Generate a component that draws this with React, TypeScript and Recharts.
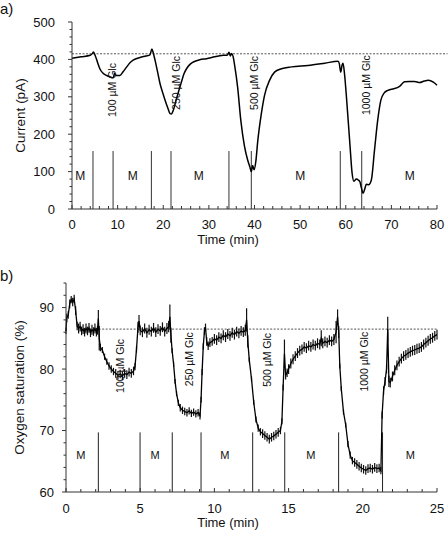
import React from "react";
import { LineChart, Line, XAxis, YAxis, ReferenceLine, ReferenceDot, ErrorBar } from "recharts";

const FONT = "'Liberation Sans', Arial, Helvetica, sans-serif";

// a) current trace
const currentTime = [
  0, 2, 4, 4.5, 4.7, 5.1, 5.6, 6.1, 6.8, 7.6, 8.4, 9.05, 9.3, 9.7, 10.5, 11.2, 12.0, 12.7, 13.4, 14.9,
  16.2, 17.1, 17.5, 17.8, 18.2, 18.7, 19.3, 19.9, 20.4, 21.0, 21.5, 21.8, 22.2, 22.9, 23.5, 24.0, 24.5,
  25.1, 25.8, 26.6, 28.0, 29.5, 31.3, 33.2, 34.1, 34.4, 34.7, 35.0, 35.3, 35.7, 36.3, 37.0, 37.8, 38.5,
  39.0, 39.3, 39.6, 39.9, 40.3, 40.7, 41.5, 42.2, 43.3, 44.4, 45.9, 48.1, 51.7, 55.4, 58.3, 58.6, 58.9,
  59.2, 59.4, 59.7, 60.1, 60.9, 61.4, 61.8, 62.3, 62.8, 63.1, 63.4, 63.8, 64.2, 64.5, 65.0, 65.6, 66.3,
  67.0, 67.7, 68.4, 69.2, 70.0, 70.7, 71.8, 72.9, 74.0, 75.1, 76.2, 77.2, 78.1, 79.2, 80.0,
];
const currentPA = [
  403, 407, 411, 416, 420, 410, 392, 375, 363, 357, 353, 351, 362, 357, 357, 367, 380, 391, 398, 405,
  409, 412, 428, 418, 398, 370, 335, 310, 291, 270, 255, 254, 264, 295, 320, 340, 360,
  375, 386, 393, 399, 402, 407, 411, 412, 419, 409, 416, 408, 380, 326, 237, 168, 131,
  112, 100, 116, 105, 128, 180, 255, 304, 344, 366, 375, 380, 384, 390, 395, 388, 366,
  385, 390, 365, 308, 175, 95, 74, 80, 77, 73, 58, 42, 55, 66, 65, 77, 157,
  237, 291, 310, 317, 320, 322, 328, 340, 341, 341, 338, 342, 344, 339, 331,
];
const currentBaseline = 415;
const currentMarkers = [4.6, 9.0, 17.4, 21.7, 34.4, 39.3, 58.8, 63.5];
const currentMarkerTop = 155;
const currentMTimes = [1.8, 13.3, 27.8, 50, 74];
const currentMLevel = 90;
const currentGlcTime = [8.8, 22.8, 40.0, 64.6];
const currentGlcLevel = [318, 337, 337, 331];
const currentXTicks = [
  0, 2, 4, 6, 8, 10, 12, 14, 16, 18, 20, 22, 24, 26, 28, 30, 32, 34, 36, 38, 40,
  42, 44, 46, 48, 50, 52, 54, 56, 58, 60, 62, 64, 66, 68, 70, 72, 74, 76, 78, 80,
];
const currentXMajor = [0, 10, 20, 30, 40, 50, 60, 70, 80];
const currentYTicks = [
  0, 20, 40, 60, 80, 100, 120, 140, 160, 180, 200, 220, 240, 260, 280, 300, 320, 340, 360, 380, 400,
  420, 440, 460, 480, 500,
];
const currentYMajor = [0, 100, 200, 300, 400, 500];

const glcLabels = ["100 \u00B5M Glc", "250 \u00B5M Glc", "500 \u00B5M Glc", "1000 \u00B5M Glc"];

// b) oxygen saturation trace (value and band half-width)
const oxyTime = [
  0, 0.05, 0.15, 0.25, 0.35, 0.45, 0.55, 0.65, 0.75, 0.85, 0.95, 1.05, 1.15, 1.25, 1.35, 1.45, 1.55,
  1.65, 1.75, 1.85, 1.95, 2.05, 2.12, 2.18, 2.24, 2.32, 2.45, 2.6, 2.75, 2.9, 3.05, 3.2, 3.35, 3.5,
  3.65, 3.8, 3.95, 4.1, 4.25, 4.4, 4.55, 4.65, 4.75, 4.85, 4.92, 5.0, 5.15, 5.3, 5.45, 5.6, 5.75, 5.9,
  6.05, 6.2, 6.35, 6.5, 6.65, 6.8, 6.92, 7.0, 7.07, 7.15, 7.25, 7.35, 7.45, 7.57, 7.7, 7.85, 8.0,
  8.15, 8.3, 8.45, 8.6, 8.75, 8.9, 9.03, 9.1, 9.17, 9.25, 9.33, 9.4, 9.48, 9.58, 9.7, 9.85, 10.0,
  10.15, 10.3, 10.45, 10.6, 10.75, 10.9, 11.05, 11.2, 11.35, 11.5, 11.65, 11.8, 11.95, 12.08, 12.17,
  12.25, 12.35, 12.5, 12.65, 12.8, 12.95, 13.1, 13.25, 13.4, 13.55, 13.7, 13.85, 14.0, 14.15, 14.3,
  14.45, 14.55, 14.63, 14.72, 14.8, 14.9, 15.0, 15.15, 15.3, 15.45, 15.6, 15.75, 15.9, 16.05, 16.2,
  16.35, 16.5, 16.65, 16.8, 16.95, 17.1, 17.2, 17.3, 17.45, 17.6, 17.75, 17.9, 18.05, 18.2, 18.3,
  18.38, 18.45, 18.55, 18.7, 18.85, 19.0, 19.15, 19.3, 19.45, 19.6, 19.75, 19.9, 20.05, 20.2, 20.35,
  20.5, 20.65, 20.8, 20.95, 21.1, 21.22, 21.3, 21.4, 21.5, 21.6, 21.68, 21.76, 21.85, 22.0, 22.15,
  22.3, 22.45, 22.6, 22.75, 22.9, 23.05, 23.2, 23.35, 23.5, 23.65, 23.8, 23.95, 24.1, 24.25, 24.4,
  24.55, 24.7, 24.85, 25.0,
];
const oxySat = [
  86.2, 88.3, 88.8, 90.6, 91.3, 90.9, 91.4, 89.5, 87.0, 86.6, 86.9, 86.2, 86.5, 86.0, 86.6, 86.2, 86.7,
  85.9, 86.4, 86.1, 86.6, 86.0, 86.3, 88.2, 85.0, 83.5, 83.1, 82.0, 81.2, 80.5, 80.0, 79.6, 79.3, 79.0,
  79.2, 78.9, 79.3, 79.1, 79.5, 79.3, 79.7, 80.4, 83.2, 86.8, 87.8, 86.3, 86.0, 86.6, 85.9, 86.4, 86.1, 86.7,
  86.0, 86.5, 86.2, 86.8, 86.1, 86.6, 86.9, 88.5, 85.5, 83.0, 80.8, 78.0, 76.0, 74.5, 73.7, 73.3, 73.1,
  72.9, 73.2, 72.8, 73.0, 72.7, 72.9, 72.4, 75.0, 79.5, 83.7, 86.2, 86.8, 84.5, 83.8, 84.3, 84.5, 84.9,
  84.7, 85.2, 85.0, 85.5, 85.2, 85.7, 85.4, 85.9, 85.6, 86.1, 85.8, 86.2, 86.0, 86.3, 88.0,
  84.5, 81.5, 78.4, 74.6, 71.8, 70.4, 69.8, 69.5, 69.2, 68.9, 68.6, 68.9, 69.1, 69.4, 69.7,
  70.0, 71.5, 77.0, 82.5, 79.0, 79.4, 80.0, 80.9, 81.6, 82.1, 82.6, 83.0, 83.2, 83.6, 83.4,
  83.8, 83.6, 84.0, 83.8, 84.2, 84.0, 85.0, 84.2, 84.5, 84.3, 84.7, 84.5, 84.8, 86.0, 88.5,
  86.0, 80.5, 76.8, 73.0, 70.9, 67.8, 66.0, 65.1, 64.8, 64.5, 64.2, 63.9, 63.7, 63.5, 63.8,
  63.9, 63.7, 64.0, 63.8, 63.9, 63.5, 72.5, 76.5, 78.0, 80.0, 86.5, 78.0, 77.8, 78.8, 79.8,
  80.6, 81.2, 81.7, 82.1, 82.3, 82.6, 82.8, 83.0, 83.1, 83.3, 83.4, 83.6, 84.0, 84.3, 84.6,
  84.9, 85.1, 85.4, 85.6,
];
const oxySpread = [
  0.5, 0.7, 0.6, 0.7, 0.6, 0.7, 0.7, 0.7, 0.7, 0.8, 0.8, 0.7, 0.8, 0.7, 0.8, 0.7, 0.8,
  0.7, 0.8, 0.7, 0.8, 0.7, 0.7, 1.4, 2.0, 0.6, 0.5, 0.5, 0.5, 0.6, 0.6, 0.6, 0.7, 0.7,
  0.7, 0.7, 0.7, 0.7, 0.7, 0.7, 0.7, 0.6, 0.5, 0.9, 1.0, 0.8, 0.8, 0.8, 0.8, 0.8, 0.8, 0.8,
  0.8, 0.8, 0.8, 0.8, 0.8, 0.9, 0.9, 2.0, 1.2, 0.4, 0.4, 0.4, 0.4, 0.5, 0.6, 0.6, 0.6,
  0.6, 0.6, 0.6, 0.6, 0.6, 0.6, 0.6, 0.5, 0.5, 0.5, 0.6, 0.6, 0.7, 0.7, 0.7, 0.7, 0.8,
  0.8, 0.8, 0.8, 0.8, 0.8, 0.8, 0.8, 0.8, 0.8, 0.8, 0.8, 0.8, 0.8, 0.9, 1.9,
  1.0, 0.4, 0.4, 0.4, 0.5, 0.6, 0.6, 0.7, 0.7, 0.7, 0.7, 0.7, 0.7, 0.7, 0.7,
  0.6, 0.5, 0.5, 2.3, 0.7, 0.7, 0.8, 0.8, 0.8, 0.8, 0.8, 0.8, 0.8, 0.8, 0.8,
  0.8, 0.8, 0.8, 0.8, 0.8, 0.8, 1.3, 0.8, 0.8, 0.8, 0.8, 0.8, 0.9, 1.8, 1.2,
  1.0, 0.4, 0.4, 0.4, 0.4, 0.5, 0.6, 0.6, 0.7, 0.7, 0.7, 0.7, 0.7, 0.7, 0.7,
  0.7, 0.7, 0.7, 0.7, 0.7, 0.6, 0.6, 0.7, 0.7, 0.7, 2.0, 0.9, 0.8, 0.8, 0.8,
  0.8, 0.8, 0.8, 0.8, 0.8, 0.8, 0.8, 0.8, 0.8, 0.8, 0.8, 0.8, 0.8, 0.8, 0.8,
  0.8, 0.8, 0.8, 0.8,
];
const oxyBaseline = 86.5;
const oxyBaselineStart = 2.2;
const oxyMarkers = [2.18, 4.99, 7.16, 9.1, 12.58, 14.74, 18.37, 21.33];
const oxyMarkerTop = 69.7;
const oxyMTimes = [1.0, 6.0, 10.7, 16.5, 23.2];
const oxyMLevel = 66;
const oxyGlcTime = [3.64, 8.3, 13.56, 20.1];
const oxyGlcLevel = [80.5, 81.6, 81.5, 81.2];
const oxyXTicks = [
  0, 1, 2, 3, 4, 5, 6, 7, 8, 9, 10, 11, 12, 13, 14, 15, 16, 17, 18, 19, 20, 21, 22, 23, 24, 25,
];
const oxyXMajor = [0, 5, 10, 15, 20, 25];
const oxyYTicks = [60, 62, 64, 66, 68, 70, 72, 74, 76, 78, 80, 82, 84, 86, 88, 90, 92, 94];
const oxyYMajor = [60, 70, 80, 90];

const currentData = currentTime.map((t, i) => ({ t, v: currentPA[i] }));
const oxyData = oxyTime.map((t, i) => ({ t, v: oxySat[i], e: oxySpread[i] }));

const XTick = (props: any) => {
  const { x, y, payload, major, dy } = props;
  const isMajor = major.includes(payload.value);
  return (
    <g>
      <line x1={x} x2={x} y1={y} y2={y - (isMajor ? 4 : 3)} stroke="#333" />
      {isMajor && (
        <text x={x} y={y + dy} textAnchor="middle" fontSize={13} fontFamily={FONT} fill="#111">
          {payload.value}
        </text>
      )}
    </g>
  );
};

const YTick = (props: any) => {
  const { x, y, payload, major, gap } = props;
  const isMajor = major.includes(payload.value);
  return (
    <g>
      <line x1={x} x2={x - (isMajor ? 4 : 2.5)} y1={y} y2={y} stroke="#333" />
      {isMajor && (
        <text x={x - gap} y={y} dy="0.36em" textAnchor="end" fontSize={13} fontFamily={FONT} fill="#111">
          {payload.value}
        </text>
      )}
    </g>
  );
};

const glcLabel = (text: string) => (props: any) => {
  const { viewBox } = props;
  const cx = viewBox.x + viewBox.width / 2;
  const cy = viewBox.y + viewBox.height / 2;
  return (
    <text
      transform={`translate(${cx},${cy}) rotate(-90)`}
      textAnchor="middle"
      dy="0.35em"
      fontSize={10.5}
      fontFamily={FONT}
      fill="#111"
    >
      {text}
    </text>
  );
};

const yTitle = (text: string, x: number) => (props: any) => {
  const { viewBox } = props;
  return (
    <text
      transform={`translate(${x},${viewBox.y + viewBox.height / 2}) rotate(-90)`}
      textAnchor="middle"
      dy="0.35em"
      fontSize={13.5}
      fontFamily={FONT}
      fill="#111"
    >
      {text}
    </text>
  );
};

const xTitle = (x: number, dy: number) => (props: any) => {
  const { viewBox } = props;
  return (
    <text x={x} y={viewBox.y + dy} textAnchor="middle" fontSize={13} fontFamily={FONT} fill="#111">
      Time (min)
    </text>
  );
};

const panelLetter: React.CSSProperties = {
  position: "absolute",
  left: 0,
  fontFamily: FONT,
  fontSize: 15,
  lineHeight: "15px",
  color: "#111",
};

export default function App() {
  return (
    <div style={{ position: "absolute", left: 0, top: 0, width: 448, height: 537, background: "#fff" }}>
      <div style={{ ...panelLetter, top: 1 }}>a)</div>
      <div style={{ ...panelLetter, top: 268 }}>b)</div>

      <div style={{ position: "absolute", left: 0, top: 0 }}>
        <LineChart width={448} height={250} data={currentData} margin={{ top: 22, right: 11, left: 0, bottom: 0 }}>
          <XAxis
            type="number"
            dataKey="t"
            domain={[0, 80]}
            ticks={currentXTicks}
            interval={0}
            tickSize={0}
            tickMargin={0}
            height={41}
            axisLine={{ stroke: "#333" }}
            tickLine={false}
            tick={(p: any) => <XTick {...p} major={currentXMajor} dy={20} />}
            label={xTitle(228, 35)}
          />
          <YAxis
            type="number"
            domain={[0, 500]}
            ticks={currentYTicks}
            interval={0}
            tickSize={0}
            tickMargin={0}
            width={72}
            axisLine={{ stroke: "#333" }}
            tickLine={false}
            tick={(p: any) => <YTick {...p} major={currentYMajor} gap={17} />}
            label={yTitle("Current (pA)", 20)}
          />
          <ReferenceLine
            segment={[
              { x: 0, y: currentBaseline },
              { x: 82.3, y: currentBaseline },
            ]}
            ifOverflow="visible"
            stroke="#555"
            strokeDasharray="2 1.5"
          />
          {currentMarkers.map((t) => (
            <ReferenceLine
              key={`cm-${t}`}
              segment={[
                { x: t, y: 0 },
                { x: t, y: currentMarkerTop },
              ]}
              stroke="#333"
            />
          ))}
          {currentMTimes.map((t) => (
            <ReferenceDot
              key={`cM-${t}`}
              x={t}
              y={currentMLevel}
              r={0}
              fill="none"
              stroke="none"
              label={{ value: "M", position: "center", fontSize: 12, fontFamily: FONT, fill: "#111" }}
            />
          ))}
          {currentGlcTime.map((t, i) => (
            <ReferenceDot
              key={`cg-${t}`}
              x={t}
              y={currentGlcLevel[i]}
              r={0}
              fill="none"
              stroke="none"
              label={glcLabel(glcLabels[i])}
            />
          ))}
          <Line
            type="monotone"
            dataKey="v"
            stroke="#000"
            strokeWidth={1.5}
            dot={false}
            isAnimationActive={false}
          />
        </LineChart>
      </div>

      <div style={{ position: "absolute", left: 0, top: 245 }}>
        <LineChart width={448} height={292} data={oxyData} margin={{ top: 38, right: 11, left: 0, bottom: 0 }}>
          <XAxis
            type="number"
            dataKey="t"
            domain={[0, 25]}
            ticks={oxyXTicks}
            interval={0}
            tickSize={0}
            tickMargin={0}
            height={45}
            axisLine={{ stroke: "#333" }}
            tickLine={false}
            tick={(p: any) => <XTick {...p} major={oxyXMajor} dy={21} />}
            label={xTitle(228, 35)}
          />
          <YAxis
            type="number"
            domain={[60, 94]}
            ticks={oxyYTicks}
            interval={0}
            tickSize={0}
            tickMargin={0}
            width={66}
            axisLine={{ stroke: "#333" }}
            tickLine={false}
            tick={(p: any) => <YTick {...p} major={oxyYMajor} gap={12} />}
            label={yTitle("Oxygen saturation (%)", 19)}
          />
          <ReferenceLine
            segment={[
              { x: oxyBaselineStart, y: oxyBaseline },
              { x: 25, y: oxyBaseline },
            ]}
            stroke="#555"
            strokeDasharray="2 1.5"
          />
          {oxyMarkers.map((t) => (
            <ReferenceLine
              key={`om-${t}`}
              segment={[
                { x: t, y: 60 },
                { x: t, y: oxyMarkerTop },
              ]}
              stroke="#222"
            />
          ))}
          {oxyMTimes.map((t) => (
            <ReferenceDot
              key={`oM-${t}`}
              x={t}
              y={oxyMLevel}
              r={0}
              fill="none"
              stroke="none"
              label={{ value: "M", position: "center", fontSize: 11, fontFamily: FONT, fill: "#111" }}
            />
          ))}
          {oxyGlcTime.map((t, i) => (
            <ReferenceDot
              key={`og-${t}`}
              x={t}
              y={oxyGlcLevel[i]}
              r={0}
              fill="none"
              stroke="none"
              label={glcLabel(glcLabels[i])}
            />
          ))}
          <Line
            type="linear"
            dataKey="v"
            stroke="#000"
            strokeWidth={1.3}
            dot={false}
            isAnimationActive={false}
          >
            <ErrorBar dataKey="e" width={0} stroke="#111" strokeWidth={1.2} direction="y" isAnimationActive={false} />
          </Line>
        </LineChart>
      </div>
    </div>
  );
}
